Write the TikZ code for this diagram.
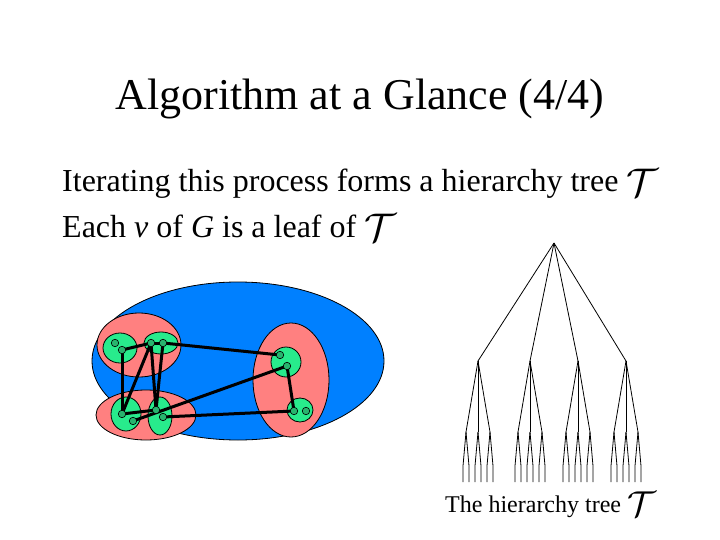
\RequirePackage{fix-cm}
\documentclass[tikz,border=0pt]{standalone}
\usepackage{fontspec}
\setmainfont{Liberation Serif}
\usetikzlibrary{positioning,backgrounds}

\definecolor{graphblue}{RGB}{0,128,255}
\definecolor{clusterpink}{RGB}{255,128,128}
\definecolor{groupgreen}{RGB}{40,235,140}
\definecolor{vertexgreen}{RGB}{40,180,110}

\newcommand{\calT}[1]{{\fontsize{#1}{#1}\selectfont\raisebox{-0.12em}{$\mathcal{T}$}}}

\begin{document}
\begin{tikzpicture}[
    x=1pt, y=-1pt,
    vertex/.style={circle, draw, fill=vertexgreen, inner sep=0pt, minimum size=7.5pt, line width=0.6pt},
    link/.style={line width=3pt},
    branch/.style={line width=0.8pt},
    region/.style={draw, line width=0.8pt},
    title/.style={font=\fontsize{44}{48}\selectfont, anchor=base, inner sep=0pt},
    body/.style={font=\fontsize{32}{36}\selectfont, anchor=base west, inner sep=0pt},
    caption/.style={font=\fontsize{24}{28}\selectfont, anchor=base west, inner sep=0pt},
]
    \useasboundingbox (0,0) rectangle (720,540);

    \node[title] (heading) at (360,110) {Algorithm at a Glance (4/4)};
    \node[body] (line1) at (62,192) {Iterating this process forms a hierarchy tree \calT{40}};
    \node[body] (line2) at (62,237) {Each \textit{v} of \textit{G} is a leaf of \calT{40}};

    % Vertices of G
    \node[vertex] (a1) at (115,343) {};
    \node[vertex] (a2) at (122,350) {};
    \node[vertex] (b1) at (151,343) {};
    \node[vertex] (b2) at (163,343) {};
    \node[vertex] (c1) at (280,355) {};
    \node[vertex] (c2) at (287,366) {};
    \node[vertex] (d1) at (294,411) {};
    \node[vertex] (d2) at (306,411) {};
    \node[vertex] (e1) at (122,414) {};
    \node[vertex] (e2) at (133,421) {};
    \node[vertex] (f1) at (156,410) {};
    \node[vertex] (f2) at (163,417) {};

    % Clusters and edges, behind the vertices
    \begin{scope}[on background layer]
        \draw[region, fill=graphblue] (238,361) ellipse [x radius=146, y radius=79];
        \draw[region, fill=clusterpink] (139,345) ellipse [x radius=42, y radius=32];
        \draw[region, fill=clusterpink] (146,415) ellipse [x radius=50, y radius=25];
        \draw[region, fill=clusterpink] (291,380) ellipse [x radius=38, y radius=57];
        \draw[region, fill=groupgreen] (120,348) ellipse [x radius=17, y radius=15];
        \draw[region, fill=groupgreen] (161,343) ellipse [x radius=17, y radius=11];
        \draw[region, fill=groupgreen] (126,414) ellipse [x radius=15, y radius=17];
        \draw[region, fill=groupgreen] (160,416) ellipse [x radius=12, y radius=19];
        \draw[region, fill=groupgreen] (286,362) ellipse [x radius=15, y radius=15];
        \draw[region, fill=groupgreen] (300,410) ellipse [x radius=13, y radius=12];

        \draw[link] (a2.center) -- (b1.center);
        \draw[link] (b1.center) -- (b2.center);
        \draw[link] (b2.center) -- (c1.center);
        \draw[link] (a2.center) -- (e1.center);
        \draw[link] (b1.center) -- (e1.center);
        \draw[link] (b1.center) -- (f1.center);
        \draw[link] (b2.center) -- (f1.center);
        \draw[link] (e1.center) -- (f1.center);
        \draw[link] (e2.center) -- (c2.center);
        \draw[link] (f2.center) -- (d1.center);
        \draw[link] (c2.center) -- (d1.center);
    \end{scope}

    % Hierarchy tree
    \coordinate (root) at (554,243);
    \foreach \k/\x in {1/478,2/530,3/578,4/626} {
        \coordinate (t\k) at (\x,361);
        \draw[branch] (root) -- (t\k);
        \foreach \j/\dx in {1/-12,2/0,3/12} {
            \coordinate (t\k\j) at (\x+\dx,432);
            \draw[branch] (t\k) -- (t\k\j);
            \foreach \i/\ex in {1/-3,2/3} {
                \coordinate (t\k\j\i) at (\x+\dx+\ex,466);
                \coordinate (leaf\k\j\i) at (\x+\dx+\ex,482);
                \draw[branch] (t\k\j) -- (t\k\j\i) -- (leaf\k\j\i);
            }
        }
    }

    \node[caption] (treelabel) at (445,512) {The hierarchy tree \calT{36}};
\end{tikzpicture}
\end{document}
